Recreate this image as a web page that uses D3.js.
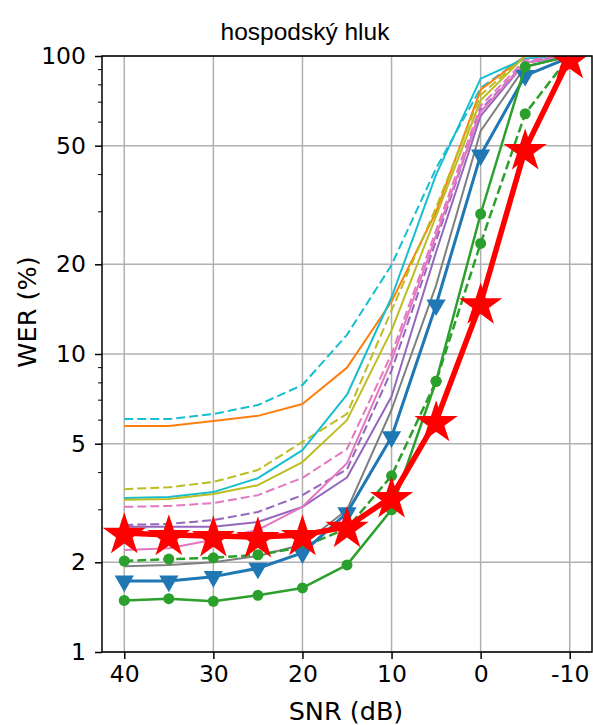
<!DOCTYPE html>
<html>
<head>
<meta charset="utf-8">
<script src="https://cdn.jsdelivr.net/npm/d3@7"></script>
<style>
  body { margin: 0; background: #fff; }
</style>
</head>
<body>
<svg id="drawing_region"></svg>
<script>
const snr = [40, 35, 30, 25, 20, 15, 10, 5, 0, -5, -10];
const xTicks = [40, 30, 20, 10, 0, -10];
const yTicks = [1, 2, 5, 10, 20, 50, 100];
const yMinor = [3, 4, 6, 7, 8, 9, 30, 40, 60, 70, 80, 90];

const cyanDashed   = [6.05, 6.05, 6.29, 6.74, 7.87, 11.6, 19.9, 42, 78, 100, 100];
const orange       = [5.73, 5.73, 5.96, 6.2, 6.8, 9.0, 15, 30, 77, 100, 100];
const oliveDashed  = [3.52, 3.57, 3.72, 4.08, 5.07, 6.3, 14, 31, 74, 100, 100];
const cyan         = [3.29, 3.31, 3.44, 3.83, 4.76, 7.3, 15.5, 40, 84, 98, 100];
const olive        = [3.24, 3.26, 3.39, 3.63, 4.34, 6.0, 12, 29, 71, 100, 100];
const pinkDashed   = [3.07, 3.09, 3.16, 3.36, 3.84, 4.8, 10, 26, 68, 97, 100];
const purpleDashed = [2.67, 2.69, 2.77, 2.95, 3.36, 4.1, 8.8, 24, 66, 95, 100];
const purple       = [2.63, 2.63, 2.63, 2.73, 3.07, 3.85, 7.2, 22, 63, 95, 100];
const pink         = [2.2, 2.23, 2.38, 2.57, 3.07, 4.3, 9.5, 25, 65, 95, 100];
const gray         = [1.94, 1.96, 2.0, 2.1, 2.29, 3.0, 6.5, 17, 56, 92, 100];
const greenDashed  = [2.02, 2.05, 2.07, 2.12, 2.25, 2.6, 3.9, 8.1, 23.5, 64, 100];
const blue         = [1.73, 1.73, 1.79, 1.91, 2.15, 2.93, 5.27, 14.6, 46.5, 86, 99];
const green        = [1.49, 1.51, 1.48, 1.55, 1.64, 1.96, 3.0, 8.1, 29.5, 92, 100];
const red          = [2.51, 2.47, 2.45, 2.43, 2.47, 2.63, 3.31, 5.96, 14.8, 48.7, 98.5];

// drawing order: bottom first, red star curve last
const series = [
  { values: cyanDashed,   color: '#17becf', dash: true },
  { values: orange,       color: '#ff7f0e' },
  { values: oliveDashed,  color: '#bcbd22', dash: true },
  { values: cyan,         color: '#17becf' },
  { values: olive,        color: '#bcbd22' },
  { values: pinkDashed,   color: '#e377c2', dash: true },
  { values: purpleDashed, color: '#9467bd', dash: true },
  { values: purple,       color: '#9467bd' },
  { values: pink,         color: '#e377c2' },
  { values: gray,         color: '#7f7f7f' },
  { values: greenDashed,  color: '#2ca02c', dash: true, marker: 'circle', width: 2.5 },
  { values: blue,         color: '#1f77b4', marker: 'triangle', width: 3 },
  { values: green,        color: '#2ca02c', marker: 'circle', width: 2.5 },
  { values: red,          color: '#ff0000', marker: 'star', width: 5.5 },
];

class LineChart {

    constructor( config, data ) {
        this.config = config;
        this.data = data;
        this.init();
    }

    init() {
        let self = this;

        self.svg = d3.select( self.config.parent )
            .attr('width', self.config.width)
            .attr('height', self.config.height);

        self.xscale = d3.scaleLinear()
            .domain( [42.5, -12.5] )
            .range( [102, 592] );

        self.yscale = d3.scaleLog()
            .domain( [1, 100] )
            .range( [652, 56] );

        self.svg.append('defs').append('clipPath')
            .attr('id', 'plot-clip')
            .append('rect')
            .attr('x', 102).attr('y', 56)
            .attr('width', 490).attr('height', 596);
    }

    render() {
        let self = this;
        const x = self.xscale, y = self.yscale;

        // grid
        const grid = self.svg.append('g');
        grid.selectAll('.vgrid').data(xTicks).enter().append('line')
            .attr('x1', d => x(d)).attr('x2', d => x(d))
            .attr('y1', 56).attr('y2', 652)
            .attr('stroke', '#b0b0b0').attr('stroke-width', 1.5);
        grid.selectAll('.hgrid').data(yTicks).enter().append('line')
            .attr('x1', 102).attr('x2', 592)
            .attr('y1', d => y(d)).attr('y2', d => y(d))
            .attr('stroke', '#b0b0b0').attr('stroke-width', 1.5);

        // lines
        const plot = self.svg.append('g').attr('clip-path', 'url(#plot-clip)');
        const line = d3.line()
            .x( (d, i) => x(snr[i]) )
            .y( d => y(d) );

        const star = d3.symbol().type(d3.symbolStar).size(580);
        const tri = d3.symbol().type(d3.symbolTriangle).size(160);

        self.data.forEach( s => {
            plot.append('path')
                .attr('d', line(s.values))
                .attr('fill', 'none')
                .attr('stroke', s.color)
                .attr('stroke-width', s.width || 2)
                .attr('stroke-dasharray', s.dash ? '9,4' : null)
                .attr('stroke-linejoin', 'round');

            if (s.marker === 'circle') {
                plot.selectAll(null).data(s.values).enter().append('circle')
                    .attr('cx', (d, i) => x(snr[i]))
                    .attr('cy', d => y(d))
                    .attr('r', 5.5)
                    .attr('fill', s.color);
            } else if (s.marker === 'triangle') {
                plot.selectAll(null).data(s.values).enter().append('path')
                    .attr('d', tri)
                    .attr('transform', (d, i) => `translate(${x(snr[i])},${y(d)}) rotate(180)`)
                    .attr('fill', s.color);
            } else if (s.marker === 'star') {
                plot.selectAll(null).data(s.values).enter().append('path')
                    .attr('d', star)
                    .attr('transform', (d, i) => `translate(${x(snr[i])},${y(d) + 2})`)
                    .attr('fill', s.color);
            }
        });

        // axes
        const xAxis = d3.axisBottom(x).tickValues(xTicks).tickSize(7).tickPadding(6)
            .tickFormat(d => String(d));
        const xg = self.svg.append('g').attr('transform', 'translate(0,652)').call(xAxis);
        xg.select('.domain').remove();
        xg.selectAll('text').attr('font-size', 23.5).attr('font-family', 'DejaVu Sans').attr('fill', '#000');
        xg.selectAll('line').attr('stroke-width', 1.5);

        const yAxis = d3.axisLeft(y).tickValues(yTicks).tickSize(7).tickPadding(9)
            .tickFormat(d => String(d));
        const yg = self.svg.append('g').attr('transform', 'translate(102,0)').call(yAxis);
        yg.select('.domain').remove();
        yg.selectAll('text').attr('font-size', 23.5).attr('font-family', 'DejaVu Sans').attr('fill', '#000');
        yg.selectAll('line').attr('stroke-width', 1.5);

        self.svg.append('g').selectAll('line').data(yMinor).enter().append('line')
            .attr('x1', 98).attr('x2', 102)
            .attr('y1', d => y(d)).attr('y2', d => y(d))
            .attr('stroke', '#000').attr('stroke-width', 1);

        // frame
        self.svg.append('rect')
            .attr('x', 102).attr('y', 56)
            .attr('width', 490).attr('height', 596)
            .attr('fill', 'none')
            .attr('stroke', '#000')
            .attr('stroke-width', 1.5);

        // labels
        self.svg.append('text')
            .attr('x', 305).attr('y', 40)
            .attr('text-anchor', 'middle')
            .attr('font-family', 'Liberation Sans')
            .attr('font-size', 24.5)
            .text('hospodský hluk');

        self.svg.append('text')
            .attr('x', 346).attr('y', 720)
            .attr('text-anchor', 'middle')
            .attr('font-family', 'DejaVu Sans')
            .attr('font-size', 25.5)
            .text('SNR (dB)');

        self.svg.append('text')
            .attr('transform', 'translate(36,312) rotate(-90)')
            .attr('text-anchor', 'middle')
            .attr('font-family', 'DejaVu Sans')
            .attr('font-size', 25.5)
            .text('WER (%)');
    }
}

const config = { parent: '#drawing_region', width: 593, height: 725 };
const chart = new LineChart( config, series );
chart.render();
</script>
</body>
</html>
